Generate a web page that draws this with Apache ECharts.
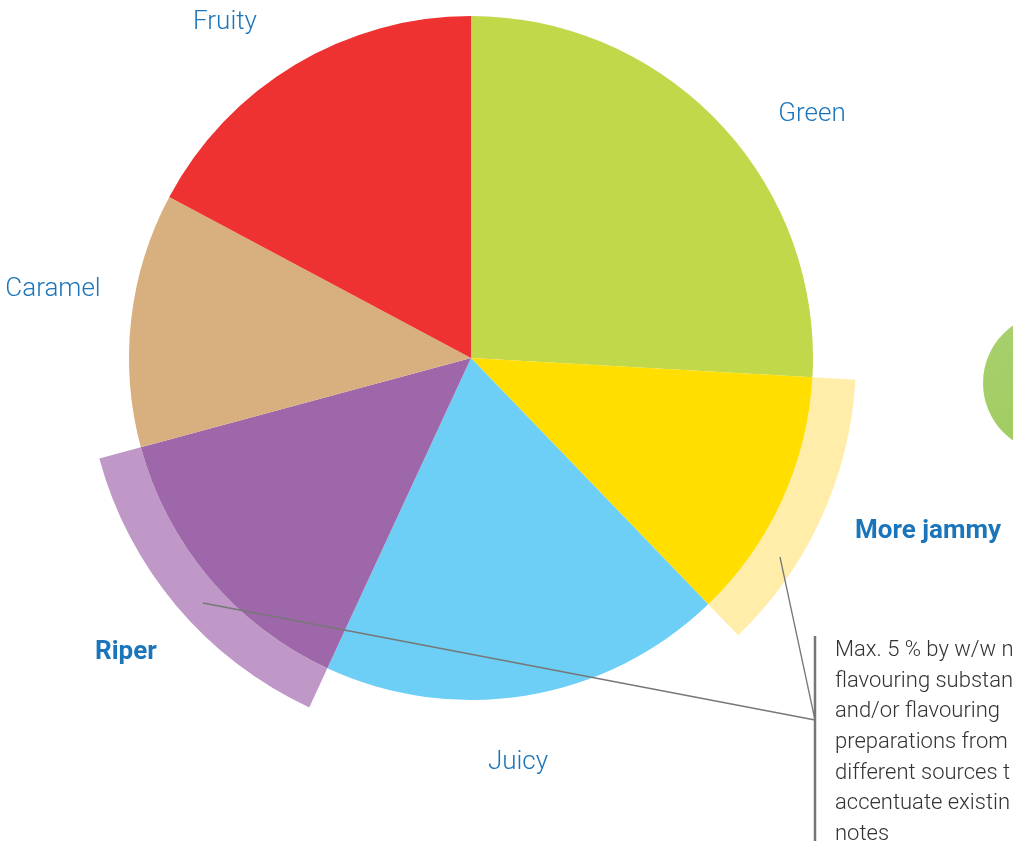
<!DOCTYPE html>
<html><head><meta charset="utf-8">
<script src="https://cdn.jsdelivr.net/npm/echarts@6/dist/echarts.min.js"></script>
<style>html,body{margin:0;padding:0;background:#fff;overflow:hidden}#c{width:1013px;height:843px}</style>
</head><body><div id="c"></div>
<script>
const categories = ['Green', 'More jammy', 'Juicy', 'Riper', 'Caramel', 'Fruity'];
const values = [25.9, 11.9, 19.1, 13.9, 12.0, 17.2];
const colors = ['#c1d84a', '#ffde00', '#6dcff5', '#9e67a9', '#d8b07f', '#ee3131'];
const bandShown = [false, true, false, true, false, false];
const bandColors = ['#ffeda9', '#bf98c8'];
const annotationLines = ['Max. 5 % by w/w n', 'flavouring substan', 'and/or flavouring', 'preparations from', 'different sources t', 'accentuate existin', 'notes'];

const chart = echarts.init(document.getElementById('c'), null, {renderer: 'canvas'});
const font = 'Roboto, "Noto Sans", sans-serif';
let bi = 0;
const bandData = categories.map((c, i) => ({
  name: c, value: values[i],
  itemStyle: {color: bandShown[i] ? bandColors[bi++] : 'rgba(0,0,0,0)'}
}));
function lbl(text, x, y, bold, align) {
  return {type: 'text', z: 10, x: x, y: y, style: {text: text, fill: '#1b75bb', font: (bold ? 'bold 26px ' : '300 26px ') + font, textAlign: align || 'center', textVerticalAlign: 'middle'}};
}
chart.setOption({
  animation: false,
  series: [
    {type: 'pie', silent: true, center: [471, 358], radius: [342, 385], startAngle: 90, clockwise: true,
     label: {show: false}, labelLine: {show: false}, data: bandData},
    {type: 'pie', silent: true, center: [471, 358], radius: [0, 342], startAngle: 90, clockwise: true,
     label: {show: false}, labelLine: {show: false},
     data: categories.map((c, i) => ({name: c, value: values[i], itemStyle: {color: colors[i]}}))}
  ],
  graphic: [
    {type: 'circle', z: 10, shape: {cx: 1053, cy: 383, r: 70}, style: {fill: new echarts.graphic.LinearGradient(0, 0, 0.6, 1, [{offset: 0, color: '#a9d06f'}, {offset: 0.85, color: '#a0cc60'}, {offset: 1, color: '#8cc63f'}])}},
    {type: 'line', z: 10, shape: {x1: 780, y1: 557, x2: 815, y2: 720}, style: {stroke: '#777', lineWidth: 1.3}},
    {type: 'line', z: 10, shape: {x1: 203, y1: 603, x2: 815, y2: 720}, style: {stroke: '#777', lineWidth: 1.3}},
    {type: 'line', z: 10, shape: {x1: 815, y1: 636, x2: 815, y2: 841}, style: {stroke: '#777', lineWidth: 2.5}},
    lbl('Fruity', 225, 22), lbl('Green', 812, 114), lbl('Caramel', 53, 289), lbl('Juicy', 518, 762),
    lbl('More jammy', 855, 531, true, 'left'), lbl('Riper', 95, 652, true, 'left'),
    {type: 'text', z: 10, x: 835, y: 635, style: {text: annotationLines.join('\n'), fill: '#333', font: '300 22px ' + font, lineHeight: 30.7, textAlign: 'left', textVerticalAlign: 'top'}}
  ]
});
</script></body></html>
